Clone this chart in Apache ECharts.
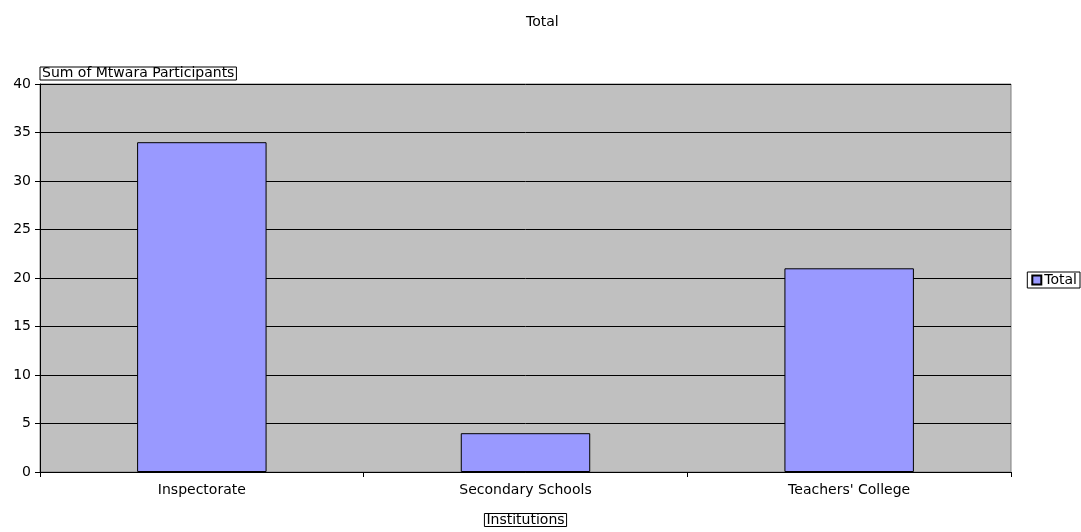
<!DOCTYPE html>
<html>
<head>
<meta charset="utf-8">
<style>
  html, body { margin: 0; padding: 0; background: #ffffff; }
  #chart { width: 1081px; height: 532px; }
</style>
<script src="https://cdn.jsdelivr.net/npm/echarts@6/dist/echarts.min.js"></script>
</head>
<body>
<div id="chart"></div>
<script>
// Participants per institution type
const categories = ['Inspectorate', 'Secondary Schools', "Teachers' College"];
const totals = [34, 4, 21];
const seriesName = 'Total';
const yMin = 0, yMax = 40, yStep = 5;

const FONT = 'DejaVu Sans';
const FS = 14;

const chart = echarts.init(document.getElementById('chart'), null, { renderer: 'canvas' });

chart.setOption({
  animation: false,
  backgroundColor: '#ffffff',
  textStyle: { fontFamily: FONT, fontSize: FS, color: '#000' },
  title: {
    text: 'Total',
    left: 526,
    top: 15,
    padding: 0,
    textStyle: { fontFamily: FONT, fontSize: FS, fontWeight: 'normal', color: '#000' }
  },
  legend: {
    data: [seriesName],
    right: 1,
    top: 272,
    orient: 'vertical',
    icon: 'rect',
    itemWidth: 9,
    itemHeight: 9,
    itemGap: 4,
    padding: [1, 3, 1, 4],
    borderColor: '#000',
    borderWidth: 1,
    backgroundColor: '#fff',
    textStyle: { fontFamily: FONT, fontSize: FS, color: '#000', padding: [0, 0, 0, -2] }
  },
  grid: {
    show: true,
    left: 40,
    right: 70,
    top: 84,
    bottom: 55,
    backgroundColor: '#C0C0C0',
    borderColor: '#808080',
    borderWidth: 1
  },
  xAxis: {
    type: 'category',
    data: categories,
    name: 'Institutions',
    nameLocation: 'middle',
    nameGap: 48,
    nameTextStyle: {
      fontFamily: FONT, fontSize: FS, color: '#000',
      borderColor: '#000', borderWidth: 1, padding: [0, 2, 0, 2], lineHeight: 13,
      verticalAlign: 'middle'
    },
    axisLine: { show: true, lineStyle: { color: '#000', width: 1 } },
    axisTick: { show: true, length: 5, lineStyle: { color: '#000' } },
    axisLabel: { margin: 11, fontFamily: FONT, fontSize: FS, color: '#000' },
    splitLine: { show: false }
  },
  yAxis: {
    type: 'value',
    min: yMin,
    max: yMax,
    interval: yStep,
    name: 'Sum of Mtwara Participants',
    nameLocation: 'end',
    nameGap: 4,
    nameTextStyle: {
      fontFamily: FONT, fontSize: FS, color: '#000',
      align: 'left', verticalAlign: 'bottom',
      borderColor: '#000', borderWidth: 1, padding: [0, 2, 0, 2], lineHeight: 13
    },
    axisLine: { show: true, lineStyle: { color: '#000', width: 1 } },
    axisTick: { show: true, length: 5, lineStyle: { color: '#000' } },
    axisLabel: { margin: 9, fontFamily: FONT, fontSize: FS, color: '#000' },
    splitLine: { show: true, lineStyle: { color: '#000', width: 1 } }
  },
  series: [{
    name: seriesName,
    type: 'bar',
    data: totals,
    barWidth: '40%',
    itemStyle: { color: '#9999FF', borderColor: '#000', borderWidth: 1 }
  }]
});
</script>
</body>
</html>
